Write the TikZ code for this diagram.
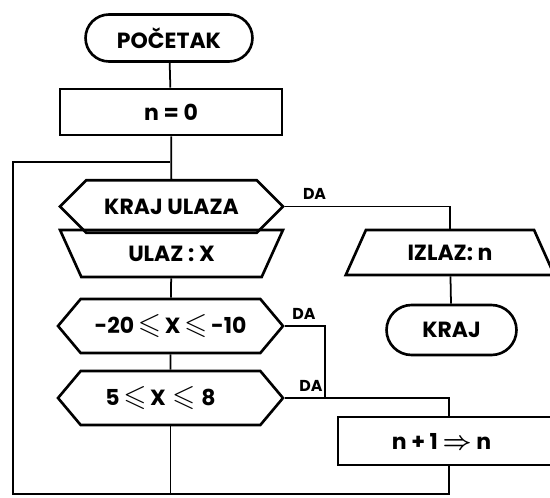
\documentclass[tikz,border=0pt]{standalone}
\usepackage{amssymb}
\usepackage{fontspec}
\setmainfont{Poppins}
\usetikzlibrary{shapes.geometric,shapes.symbols,shapes.misc}
\newcommand{\lesym}{{\fontsize{17}{17}\selectfont\boldmath$\leqslant$}}

\begin{document}
\begin{tikzpicture}[
    x=0.02cm, y=-0.02cm,
    base/.style={draw, line width=1.5pt, inner sep=2pt,
                 font=\fontsize{12.5}{14}\selectfont\bfseries},
    terminal/.style={base, rounded rectangle},
    process/.style={base, rectangle},
    decision/.style={base, signal, signal to=west and east,
                     signal pointer angle=100},
    inout/.style={base, trapezium, trapezium stretches=true,
                  trapezium left angle=64, trapezium right angle=64},
    flow/.style={line width=1pt},
    yes/.style={font=\fontsize{9}{10}\selectfont\bfseries}
  ]
    \useasboundingbox (0,0) rectangle (550,497);

    % Main column
    \node[terminal, minimum width=3.48cm, minimum height=0.94cm] (start) at (169,38) {POČETAK};
    \node[process, minimum width=4.44cm, minimum height=0.92cm] (init) at (171,112) {n = 0};
    \node[decision, signal pointer angle=90, minimum width=4.46cm, minimum height=1.05cm]
      (endin) at (171.5,206.5) {KRAJ ULAZA};
    \node[inout, shape border rotate=180, minimum width=4.46cm, minimum height=0.94cm]
      (input) at (171.5,253.5) {ULAZ : X};
    \node[decision, minimum width=4.5cm, minimum height=1.08cm] (rangea) at (170.5,326)
      {-20\,\lesym\,X\,\lesym\,-10};
    \node[decision, minimum width=4.5cm, minimum height=1.08cm] (rangeb) at (170.5,398)
      {\hspace*{-0.4cm}5\,\lesym\,X\;\lesym\;8};

    % Right column
    \node[inout, minimum width=4.2cm, minimum height=0.9cm] (output) at (450,252.5) {IZLAZ: n};
    \node[terminal, minimum width=2.74cm, minimum height=1.0cm] (stop) at (451.5,330) {KRAJ};
    \node[process, minimum width=4.44cm, minimum height=0.96cm] (incr) at (449,441)
      {\hspace*{-0.3cm}n + 1 {\fontsize{15}{15}\selectfont\boldmath$\Rightarrow$} n};

    \coordinate (join) at (170,162);
    \coordinate (corner) at (13,494);
    \coordinate (merge) at (325,398);

    % Connectors
    \draw[flow] (start) -- (init);
    \draw[flow] (init) -- (endin);
    \draw[flow] (input) -- (rangea);
    \draw[flow] (rangea) -- (rangeb);
    \draw[flow] (rangeb.south) -- (rangeb.south |- corner);
    \draw[flow] (incr.south) |- (corner) |- (join);
    \draw[flow] (endin.east) -| (output.north)
      node[yes, pos=0.09, above] {DA};
    \draw[flow] (output) -- (stop);
    \draw[flow] (rangea.east) -| (merge)
      node[yes, pos=0.24, above] {DA};
    \draw[flow] (rangeb.east) -| (incr.north)
      node[yes, pos=0.08, above] {DA};
  \end{tikzpicture}
\end{document}
